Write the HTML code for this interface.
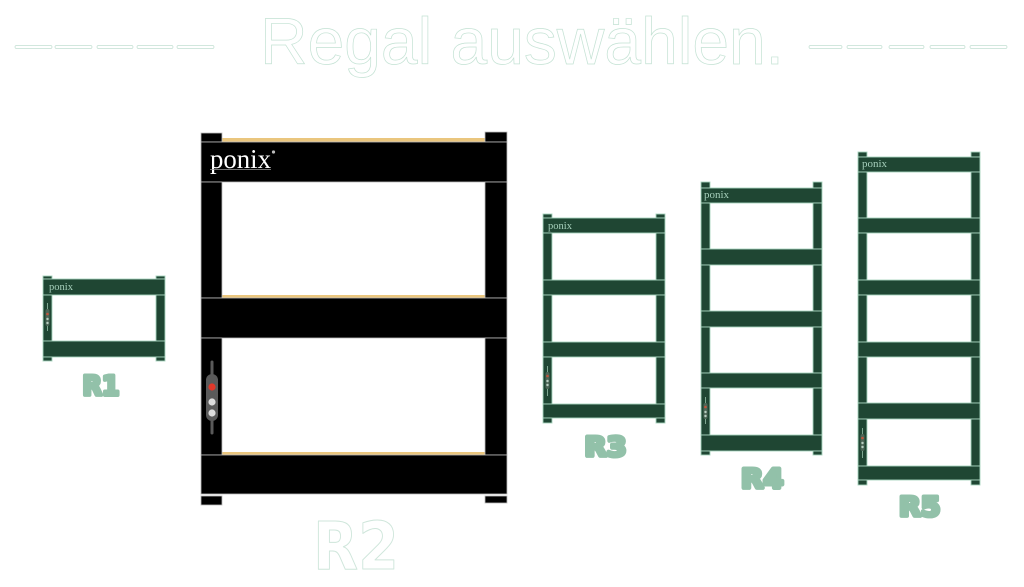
<!DOCTYPE html>
<html>
<head>
<meta charset="utf-8">
<style>
  html, body { margin:0; padding:0; background:#ffffff; }
  body { width:1024px; height:587px; overflow:hidden; position:relative; }
  svg { position:absolute; left:0; top:0; }
</style>
</head>
<body>
<svg width="1024" height="587" viewBox="0 0 1024 587" xmlns="http://www.w3.org/2000/svg">
  <!-- Title dashes -->
  <g fill="#ffffff" stroke="#c2e0d2" stroke-width="0.7">
    <rect x="15" y="45.5" width="37" height="3" rx="1.5"/>
    <rect x="55" y="45.5" width="37" height="3" rx="1.5"/>
    <rect x="97" y="45.5" width="36" height="3" rx="1.5"/>
    <rect x="137" y="45.5" width="36" height="3" rx="1.5"/>
    <rect x="177" y="45.5" width="37" height="3" rx="1.5"/>
    <rect x="809" y="45.5" width="33" height="3" rx="1.5"/>
    <rect x="847" y="45.5" width="35" height="3" rx="1.5"/>
    <rect x="889" y="45.5" width="35" height="3" rx="1.5"/>
    <rect x="930" y="45.5" width="35" height="3" rx="1.5"/>
    <rect x="970" y="45.5" width="37" height="3" rx="1.5"/>
  </g>
  <!-- Title -->
  <text x="260" y="64" font-family="Liberation Sans, sans-serif" font-size="66" fill="#ffffff" stroke="#c4e2d4" stroke-width="0.7" textLength="524" lengthAdjust="spacingAndGlyphs">Regal auswählen.</text>

  <!-- R2 (black, selected) -->
  <g>
    <g fill="#eac67e">
      <rect x="222" y="138" width="263" height="4"/>
      <rect x="222" y="295" width="263" height="3"/>
      <rect x="222" y="452" width="263" height="3"/>
    </g>
    <g fill="#000000" stroke="#bdbdbd" stroke-width="0.8">
      <rect x="201" y="133" width="21" height="9"/>
      <rect x="485" y="132" width="22" height="10"/>
      <rect x="201" y="142" width="306" height="40"/>
      <rect x="201" y="182" width="21" height="116"/>
      <rect x="485" y="182" width="22" height="116"/>
      <rect x="201" y="298" width="306" height="40"/>
      <rect x="201" y="338" width="21" height="117"/>
      <rect x="485" y="338" width="22" height="117"/>
      <rect x="201" y="455" width="306" height="39"/>
      <rect x="201" y="496" width="21" height="9"/>
      <rect x="485" y="496" width="22" height="7"/>
    </g>
    <text x="210" y="168" font-family="Liberation Serif, serif" font-size="27" fill="#ffffff" textLength="61" lengthAdjust="spacingAndGlyphs">ponix</text>
    <line x1="210" y1="169.5" x2="271" y2="169.5" stroke="#9a9a9a" stroke-width="0.8"/>
    <circle cx="273.5" cy="152" r="1.6" fill="#bbbbbb"/>
    <!-- lock -->
    <line x1="212" y1="362" x2="212" y2="433" stroke="#5a5a5a" stroke-width="3" stroke-linecap="round"/>
    <rect x="206" y="374" width="12" height="47" rx="6" fill="#5a5a5a"/>
    <circle cx="212" cy="387" r="3.6" fill="#e0382a"/>
    <circle cx="212" cy="402" r="3.6" fill="#dddddd"/>
    <circle cx="212" cy="413" r="3.6" fill="#dddddd"/>
  </g>

  <!-- Green shelves -->
  <g fill="#1f4633" stroke="#a8d4be" stroke-width="0.9">
    <!-- R1 -->
    <rect x="43" y="276" width="9" height="3"/>
    <rect x="156" y="276" width="9" height="3"/>
    <rect x="43" y="279" width="122" height="16"/>
    <rect x="43" y="295" width="9" height="46"/>
    <rect x="156" y="295" width="9" height="46"/>
    <rect x="43" y="341" width="122" height="16"/>
    <rect x="43" y="357" width="9" height="4"/>
    <rect x="156" y="357" width="9" height="4"/>

    <!-- R3 -->
    <rect x="543" y="214" width="9" height="4"/>
    <rect x="656" y="214" width="9" height="4"/>
    <rect x="543" y="218" width="122" height="15"/>
    <rect x="543" y="233" width="9" height="47"/>
    <rect x="656" y="233" width="9" height="47"/>
    <rect x="543" y="280" width="122" height="15"/>
    <rect x="543" y="295" width="9" height="47"/>
    <rect x="656" y="295" width="9" height="47"/>
    <rect x="543" y="342" width="122" height="15"/>
    <rect x="543" y="357" width="9" height="47"/>
    <rect x="656" y="357" width="9" height="47"/>
    <rect x="543" y="404" width="122" height="14"/>
    <rect x="543" y="418" width="9" height="5"/>
    <rect x="656" y="418" width="9" height="5"/>

    <!-- R4 -->
    <rect x="701" y="182" width="9" height="6"/>
    <rect x="813" y="182" width="9" height="6"/>
    <rect x="701" y="188" width="121" height="15"/>
    <rect x="701" y="203" width="9" height="46"/>
    <rect x="813" y="203" width="9" height="46"/>
    <rect x="701" y="249" width="121" height="16"/>
    <rect x="701" y="265" width="9" height="46"/>
    <rect x="813" y="265" width="9" height="46"/>
    <rect x="701" y="311" width="121" height="16"/>
    <rect x="701" y="327" width="9" height="46"/>
    <rect x="813" y="327" width="9" height="46"/>
    <rect x="701" y="373" width="121" height="15"/>
    <rect x="701" y="388" width="9" height="47"/>
    <rect x="813" y="388" width="9" height="47"/>
    <rect x="701" y="435" width="121" height="16"/>
    <rect x="701" y="451" width="9" height="4"/>
    <rect x="813" y="451" width="9" height="4"/>

    <!-- R5 -->
    <rect x="858" y="152" width="9" height="5"/>
    <rect x="971" y="152" width="9" height="5"/>
    <rect x="858" y="157" width="122" height="15"/>
    <rect x="858" y="172" width="9" height="46"/>
    <rect x="971" y="172" width="9" height="46"/>
    <rect x="858" y="218" width="122" height="15"/>
    <rect x="858" y="233" width="9" height="47"/>
    <rect x="971" y="233" width="9" height="47"/>
    <rect x="858" y="280" width="122" height="15"/>
    <rect x="858" y="295" width="9" height="47"/>
    <rect x="971" y="295" width="9" height="47"/>
    <rect x="858" y="342" width="122" height="15"/>
    <rect x="858" y="357" width="9" height="46"/>
    <rect x="971" y="357" width="9" height="46"/>
    <rect x="858" y="403" width="122" height="16"/>
    <rect x="858" y="419" width="9" height="47"/>
    <rect x="971" y="419" width="9" height="47"/>
    <rect x="858" y="466" width="122" height="14"/>
    <rect x="858" y="480" width="9" height="5"/>
    <rect x="971" y="480" width="9" height="5"/>
  </g>

  <!-- small ponix logos -->
  <g font-family="Liberation Serif, serif" font-size="11" fill="#a6cfbb">
    <text x="49" y="290" textLength="24" lengthAdjust="spacingAndGlyphs">ponix</text>
    <text x="548" y="229" textLength="24" lengthAdjust="spacingAndGlyphs">ponix</text>
    <text x="704" y="198" textLength="25" lengthAdjust="spacingAndGlyphs">ponix</text>
    <text x="862" y="167" textLength="25" lengthAdjust="spacingAndGlyphs">ponix</text>
  </g>

  <!-- small locks -->
  <g>
    <line x1="47.5" y1="303" x2="47.5" y2="331" stroke="#7fa892" stroke-width="1"/>
    <rect x="45.5" y="309" width="4" height="17" rx="2" fill="#4d6657"/>
    <circle cx="47.5" cy="314" r="1.3" fill="#c0553c"/>
    <circle cx="47.5" cy="319" r="1.2" fill="#b8cfc2"/>
    <circle cx="47.5" cy="323" r="1.2" fill="#b8cfc2"/>

    <line x1="547.5" y1="366" x2="547.5" y2="396" stroke="#7fa892" stroke-width="1"/>
    <rect x="545.5" y="372" width="4" height="17" rx="2" fill="#4d6657"/>
    <circle cx="547.5" cy="376" r="1.3" fill="#c0553c"/>
    <circle cx="547.5" cy="381" r="1.2" fill="#b8cfc2"/>
    <circle cx="547.5" cy="385" r="1.2" fill="#b8cfc2"/>

    <line x1="705.5" y1="397" x2="705.5" y2="424" stroke="#7fa892" stroke-width="1"/>
    <rect x="703.5" y="403" width="4" height="16" rx="2" fill="#4d6657"/>
    <circle cx="705.5" cy="407" r="1.3" fill="#c0553c"/>
    <circle cx="705.5" cy="412" r="1.2" fill="#b8cfc2"/>
    <circle cx="705.5" cy="416" r="1.2" fill="#b8cfc2"/>

    <line x1="862.5" y1="428" x2="862.5" y2="458" stroke="#7fa892" stroke-width="1"/>
    <rect x="860.5" y="434" width="4" height="17" rx="2" fill="#4d6657"/>
    <circle cx="862.5" cy="438" r="1.3" fill="#c0553c"/>
    <circle cx="862.5" cy="443" r="1.2" fill="#b8cfc2"/>
    <circle cx="862.5" cy="447" r="1.2" fill="#b8cfc2"/>
  </g>

  <!-- labels -->
  <g font-family="DejaVu Sans, sans-serif" font-weight="bold" font-size="27" fill="#92c1a9" stroke="#92c1a9" stroke-width="4" stroke-linejoin="round">
    <text x="82.5" y="395" textLength="37" lengthAdjust="spacingAndGlyphs">R1</text>
    <text x="584.5" y="456" textLength="42" lengthAdjust="spacingAndGlyphs">R3</text>
    <text x="741" y="488" textLength="42.5" lengthAdjust="spacingAndGlyphs">R4</text>
    <text x="899" y="516" textLength="41.5" lengthAdjust="spacingAndGlyphs">R5</text>
  </g>
  <text x="313" y="569" font-family="DejaVu Sans, sans-serif" font-weight="bold" font-size="66" fill="#ffffff" stroke="#cfe6db" stroke-width="1" stroke-linejoin="round" textLength="86" lengthAdjust="spacingAndGlyphs">R2</text>
</svg>
</body>
</html>
